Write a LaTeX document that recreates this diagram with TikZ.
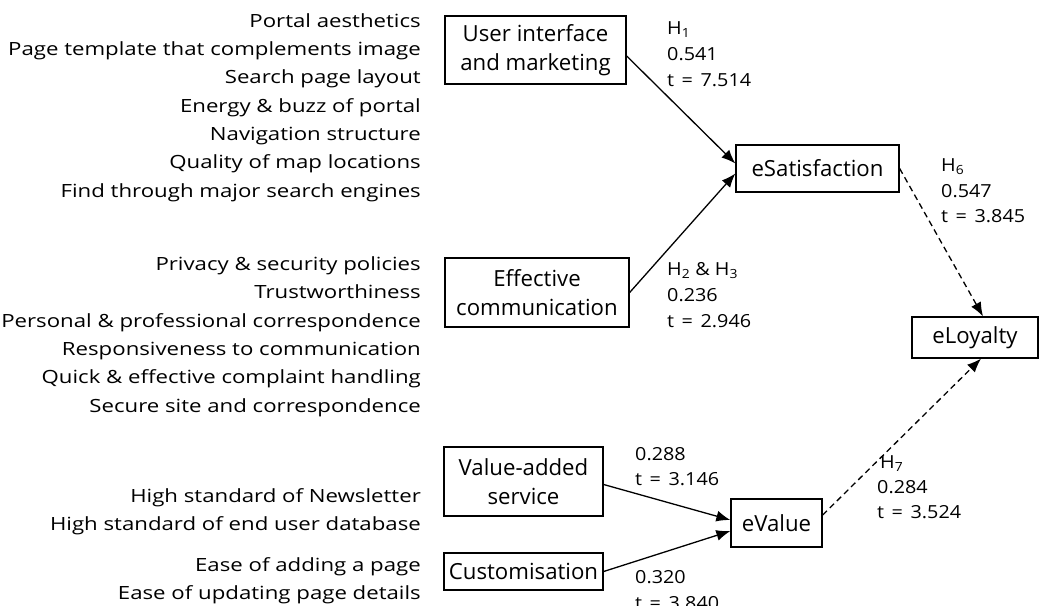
\documentclass[tikz,border=0pt]{standalone}
\usepackage{fontspec}
\setmainfont{Open Sans}
\newfontfamily\listfont[FakeStretch=1.22]{Open Sans}
\newfontfamily\labfont[FakeStretch=1.1]{Open Sans}
\newcommand{\teq}[1]{t\hspace{0.42em}=\hspace{0.42em}#1}
\usetikzlibrary{arrows.meta,calc}
\begin{document}
\begin{tikzpicture}[x=1pt,y=-1pt,
  box/.style={draw, line width=1.3pt, inner sep=0pt, align=center, font=\fontsize{22.2}{29.5}\selectfont},
  lst/.style={anchor=base east, inner sep=0pt, font=\listfont\fontsize{18.2}{28}\selectfont},
  lab/.style={anchor=base west, inner sep=0pt, font=\labfont\fontsize{18}{26}\selectfont},
  arr/.style={line width=1.3pt, -{Latex[length=14pt,width=11pt]}},
  darr/.style={arr, dash pattern=on 6pt off 4pt}]
\useasboundingbox (0,0) rectangle (1040,605);
\clip (0,0) rectangle (1040,605);

% boxes
\node[box, minimum width=181pt, minimum height=68pt] (ui) at (535.5,50) {User interface\\and marketing};
\node[box, minimum width=163pt, minimum height=47pt] (esat) at (817.5,168.5) {eSatisfaction};
\node[box, minimum width=184pt, minimum height=69pt] (ec) at (537,292.5) {Effective\\communication};
\node[box, minimum width=126pt, minimum height=41pt] (eloy) at (975,337.5) {eLoyalty};
\node[box, minimum width=159pt, minimum height=69pt] (vas) at (523.5,481.5) {Value-added\\service};
\node[box, minimum width=159pt, minimum height=37pt] (cust) at (523.5,571.5) {Customisation};
\node[box, minimum width=91pt, minimum height=48pt] (eval) at (776.5,523) {eValue};

% connectors
\draw[arr] ($(ui.east)+(0,6)$) -- ($(esat.west)+(0,-5)$);
\draw[arr] (ec.east) -- ($(esat.west)+(0,5)$);
\draw[darr] (esat.east) -- ($(eloy.north)+(8,0)$);
\draw[arr] ($(vas.east)+(0,3)$) -- ($(eval.west)+(0,-3)$);
\draw[arr] (cust.east) -- ($(eval.west)+(0,8)$);
\draw[darr] ($(eval.east)+(0,-8)$) -- ($(eloy.south)+(6,0)$);

% left lists
\foreach \y/\t [count=\i] in {27.3/Portal aesthetics, 55.6/Page template that complements image,
  83.9/Search page layout, 112.2/Energy \& buzz of portal, 140.5/Navigation structure,
  168.8/Quality of map locations, 197.1/Find through major search engines}
  \node[lst] (a\i) at (421,\y) {\t};
\foreach \y/\t [count=\i] in {270.6/Privacy \& security policies, 298.9/Trustworthiness,
  327.2/Personal \& professional correspondence, 355.5/Responsiveness to communication,
  383.8/Quick \& effective complaint handling, 412.1/Secure site and correspondence}
  \node[lst] (b\i) at (421,\y) {\t};
\foreach \y/\t [count=\i] in {502.5/High standard of Newsletter, 530.8/High standard of end user database}
  \node[lst] (c\i) at (421,\y) {\t};
\foreach \y/\t [count=\i] in {571.5/Ease of adding a page, 599.5/Ease of updating page details}
  \node[lst] (d\i) at (421,\y) {\t};

% path labels
\node[lab] (h1a) at (667,34.3) {H\textsubscript{1}};
\node[lab] (h1b) at (667,60.3) {0.541};
\node[lab] (h1c) at (667,86.5) {\teq{7.514}};
\node[lab] (h2a) at (667,275.3) {H\textsubscript{2} \& H\textsubscript{3}};
\node[lab] (h2b) at (667,301.3) {0.236};
\node[lab] (h2c) at (667,327) {\teq{2.946}};
\node[lab] (h6a) at (941,171.7) {H\textsubscript{6}};
\node[lab] (h6b) at (941,197) {0.547};
\node[lab] (h6c) at (941,222.7) {\teq{3.845}};
\node[lab] (v1a) at (635,460) {0.288};
\node[lab] (v1b) at (635,485.5) {\teq{3.146}};
\node[lab] (v2a) at (635,583.5) {0.320};
\node[lab] (v2b) at (635,609) {\teq{3.840}};
\node[lab] (h7a) at (880,468) {H\textsubscript{7}};
\node[lab] (h7b) at (877,493.5) {0.284};
\node[lab] (h7c) at (877,518.5) {\teq{3.524}};
\end{tikzpicture}
\end{document}
